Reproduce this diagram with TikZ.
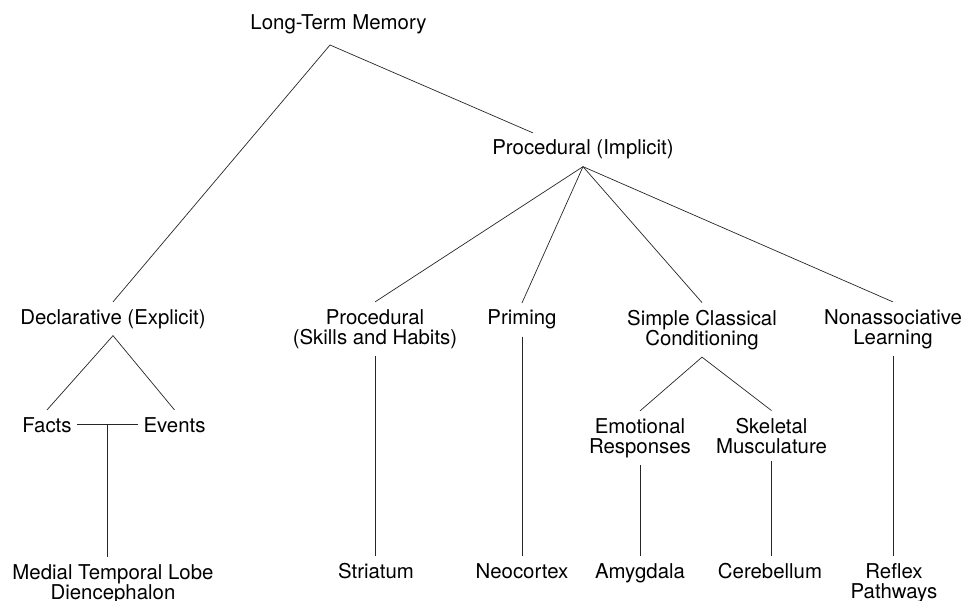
\documentclass[tikz,border=0pt]{standalone}
\usepackage{fontspec}
\setmainfont{TeX Gyre Heros}
\usepackage{tikz}
\usetikzlibrary{calc}

\begin{document}
\begin{tikzpicture}[
  x=1pt, y=-1pt,
  lbl/.style  = {anchor=base, align=center, inner xsep=5pt, inner ysep=7pt,
                 font=\fontsize{20.4}{20.5}\selectfont},
  link/.style = {draw=black!85, line width=0.7pt}
]
\useasboundingbox (0,0) rectangle (963,601);

% Top levels
\node[lbl] (ltm)     at (338.5, 30) {Long-Term Memory};
\node[lbl] (procimp) at (583, 155)  {Procedural (Implicit)};
\coordinate (ltmfork) at (330, 45);

% Second row (two-line nodes sit on their last line)
\node[lbl] (declar)    at (113, 324)   {Declarative (Explicit)};
\node[lbl] (procskill) at (375, 344.5) {Procedural\\(Skills and Habits)};
\node[lbl] (priming)   at (522, 325)   {Priming};
\node[lbl] (simple)    at (702, 345.5) {Simple Classical\\Conditioning};
\node[lbl] (nonassoc)  at (893, 344.5) {Nonassociative\\Learning};

% Third row
\node[lbl] (facts)    at (47, 432)      {Facts};
\node[lbl] (events)   at (174.5, 432)   {Events};
\node[lbl] (emotion)  at (640, 453.5)   {Emotional\\Responses};
\node[lbl] (skeletal) at (771.5, 453.5) {Skeletal\\Musculature};

% Brain structures
\node[lbl] (mtl)        at (113, 599.5) {Medial Temporal Lobe\\Diencephalon};
\node[lbl] (striatum)   at (376, 578)   {Striatum};
\node[lbl] (neocortex)  at (522, 578)   {Neocortex};
\node[lbl] (amygdala)   at (640, 578)   {Amygdala};
\node[lbl] (cerebellum) at (770, 578)   {Cerebellum};
\node[lbl] (reflex)     at (894, 598.5) {Reflex\\Pathways};

% Branches
\draw[link] (declar.north) -- (ltmfork) -- ([xshift=-50pt]procimp.north);
\foreach \kid in {procskill, priming, simple, nonassoc}
  \draw[link] (procimp.south) -- (\kid.north);
\draw[link] (facts.north) -- (declar.south) -- (events.north);
\draw[link] (emotion.north) -- (simple.south) -- (skeletal.north);

% Facts -- Events and the stems
\draw[link] (facts.east) -- (events.west);
\coordinate (fework) at ($(facts.east)!0.5!(events.west)$);
\draw[link] (fework) -- (fework |- mtl.north);
\draw[link] (procskill.south) -- (procskill.south |- striatum.north);
\draw[link] (priming.south) -- (neocortex.north);
\draw[link] (emotion.south) -- (emotion.south |- amygdala.north);
\draw[link] (skeletal.south) -- (skeletal.south |- cerebellum.north);
\draw[link] (nonassoc.south) -- (nonassoc.south |- reflex.north);
\end{tikzpicture}
\end{document}
